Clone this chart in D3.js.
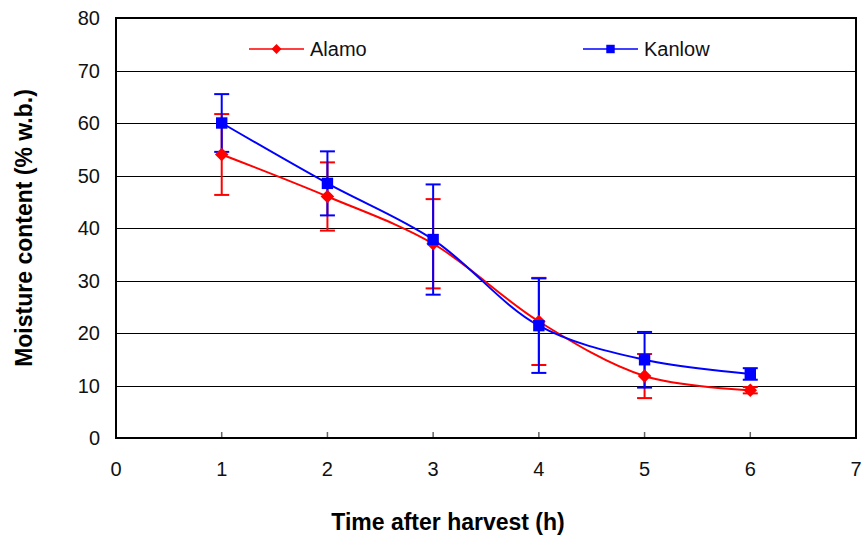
<!DOCTYPE html>
<meta charset="utf-8">
<script src="https://d3js.org/d3.v7.min.js"></script>
<html>
<style>
body { margin: 0; background: #fff; }
text { font-family: Arial, "Liberation Sans", sans-serif; }
</style>
<body>
<div id="chart"></div>
</body>
<script>
// data
var hours = [1, 2, 3, 4, 5, 6];
var alamo = [54, 46, 37, 22.2, 11.8, 9.1];
var alamoErr = [7.7, 6.5, 8.5, 8.3, 4.2, 0.6];
var kanlow = [60, 48.5, 37.8, 21.4, 14.9, 12.2];
var kanlowErr = [5.5, 6.1, 10.5, 9, 5.3, 1.1];
var xTicks = [0, 1, 2, 3, 4, 5, 6, 7];
var yTicks = [0, 10, 20, 30, 40, 50, 60, 70, 80];

var W = 864, H = 538;
var margin = { top: 18, right: 8, bottom: 100, left: 116 };
var width = W - margin.left - margin.right,
    height = H - margin.top - margin.bottom;

var svg = d3.select("#chart").append("svg")
    .attr("width", W).attr("height", H);
var g = svg.append("g")
    .attr("transform", "translate(" + margin.left + "," + margin.top + ")");

var x = d3.scaleLinear().domain([0, 7]).range([0, width]);
var y = d3.scaleLinear().domain([0, 80]).range([height, 0]);

// gridlines
g.selectAll(".grid").data(yTicks.filter(function (d) { return d > 0 && d < 80; }))
  .enter().append("line")
    .attr("x1", 0).attr("x2", width)
    .attr("y1", function (d) { return Math.round(y(d)) + 0.5; })
    .attr("y2", function (d) { return Math.round(y(d)) + 0.5; })
    .attr("stroke", "#000").attr("stroke-width", 1)
    .attr("shape-rendering", "crispEdges");

// x ticks (inside, pointing up)
g.selectAll(".xt").data(xTicks.slice(1, -1)).enter().append("line")
    .attr("x1", function (d) { return x(d); }).attr("x2", function (d) { return x(d); })
    .attr("y1", height).attr("y2", height - 6)
    .attr("stroke", "#666").attr("stroke-width", 1.5);

// frame
g.append("rect").attr("width", width).attr("height", height)
    .attr("fill", "none").attr("stroke", "#000").attr("stroke-width", 2);

// tick labels
g.selectAll(".yl").data(yTicks).enter().append("text")
    .attr("x", -16).attr("y", function (d) { return y(d); })
    .attr("dy", "0.35em").attr("text-anchor", "end")
    .attr("font-size", 20).attr("fill", "#111")
    .text(function (d) { return d; });
g.selectAll(".xl").data(xTicks).enter().append("text")
    .attr("x", function (d) { return x(d); }).attr("y", height + 31)
    .attr("dy", "0.35em").attr("text-anchor", "middle")
    .attr("font-size", 20).attr("fill", "#111")
    .text(function (d) { return d; });

// axis titles
svg.append("text")
    .attr("x", 448).attr("y", 522).attr("dy", "0.35em")
    .attr("text-anchor", "middle").attr("font-size", 23).attr("font-weight", "bold")
    .text("Time after harvest (h)");
svg.append("text")
    .attr("transform", "translate(24,228) rotate(-90)")
    .attr("dy", "0.35em")
    .attr("text-anchor", "middle").attr("font-size", 23).attr("font-weight", "bold")
    .text("Moisture content (% w.b.)");

// diamond = square turned by 45 degrees
var diamond = {
  draw: function (ctx, size) {
    var r = Math.sqrt(size / 2);
    ctx.moveTo(0, -r); ctx.lineTo(r, 0); ctx.lineTo(0, r); ctx.lineTo(-r, 0); ctx.closePath();
  }
};

var series = [
  { name: "Alamo", color: "#ff0000", vals: alamo, err: alamoErr, symbol: diamond, size: 92 },
  { name: "Kanlow", color: "#0000ff", vals: kanlow, err: kanlowErr, symbol: d3.symbolSquare, size: 130 }
];

var line = d3.line()
    .x(function (d, i) { return x(hours[i]); })
    .y(function (d) { return y(d); })
    .curve(d3.curveCatmullRom.alpha(0.5));

series.forEach(function (s) {
  var sg = g.append("g");
  // error bars
  hours.forEach(function (h, i) {
    var cx = x(h), top = y(s.vals[i] + s.err[i]), bot = y(s.vals[i] - s.err[i]);
    sg.append("line").attr("x1", cx).attr("x2", cx).attr("y1", top).attr("y2", bot)
      .attr("stroke", s.color).attr("stroke-width", 2);
    [top, bot].forEach(function (yy) {
      sg.append("line").attr("x1", cx - 7.5).attr("x2", cx + 7.5).attr("y1", yy).attr("y2", yy)
        .attr("stroke", s.color).attr("stroke-width", 2);
    });
  });
  sg.append("path").datum(s.vals).attr("d", line)
    .attr("fill", "none").attr("stroke", s.color).attr("stroke-width", 2);
});

series.forEach(function (s) {
  g.selectAll(null).data(s.vals).enter().append("path")
    .attr("transform", function (d, i) { return "translate(" + x(hours[i]) + "," + y(d) + ")"; })
    .attr("d", d3.symbol().type(s.symbol).size(s.size))
    .attr("fill", s.color);
});

// legend
var legendPos = [{ x: 249, y: 49 }, { x: 583, y: 49 }];
series.forEach(function (s, i) {
  var lg = svg.append("g").attr("transform", "translate(" + legendPos[i].x + "," + legendPos[i].y + ")");
  lg.append("line").attr("x1", 0).attr("x2", 55).attr("stroke", s.color).attr("stroke-width", 1.5);
  lg.append("path").attr("transform", "translate(27.5,0)")
    .attr("d", d3.symbol().type(s.symbol).size(s.size * 0.55)).attr("fill", s.color);
  lg.append("text").attr("x", 61).attr("dy", "0.35em")
    .attr("font-size", 20).attr("fill", "#111").text(s.name);
});
</script>
</html>
